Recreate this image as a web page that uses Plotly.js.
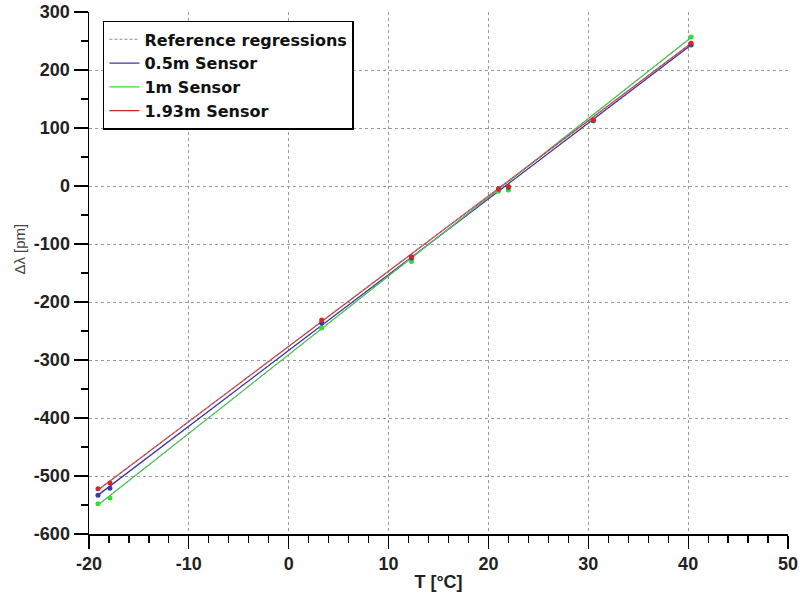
<!DOCTYPE html>
<html>
<head>
<meta charset="utf-8">
<script src="https://cdn.plot.ly/plotly-3.0.1.min.js"></script>
<style>html,body{margin:0;padding:0;background:#fff;}#chart{width:800px;height:594px;}</style>
</head>
<body>
<div id="chart"></div>
<script>
// Measured points (temperature in °C, wavelength shift in pm)
var tempPoints = [-19.1, -17.9, 3.3, 12.3, 21.0, 22.0, 30.5, 40.3];
var sensor05 = [-533, -521, -236, -124, -5, -2, 113, 243];
var sensor1 = [-548, -538, -245, -130, -9, -7, 112, 257];
var sensor193 = [-522, -512, -231, -122, -5, -1, 114, 246];

// Regression line end points
var fitT = [-19.1, 40.3];
var fit05 = [-533, 243];
var fit1 = [-550, 256];
var fit193 = [-524, 246];

// Tick labels (hyphen minus as in the original)
var xTickVals = [-20, -10, 0, 10, 20, 30, 40, 50];
var xTickText = ['-20', '-10', '0', '10', '20', '30', '40', '50'];
var yTickVals = [-600, -500, -400, -300, -200, -100, 0, 100, 200, 300];
var yTickText = ['-600', '-500', '-400', '-300', '-200', '-100', '0', '100', '200', '300'];

var seriesNames = ['Reference regressions', '0.5m Sensor', '1m Sensor', '1.93m Sensor'];
var colBlue = '#3a3aa0', colGreen = '#33dd33', colRed = '#dd2222', colRef = '#8888aa';

var traces = [];
traces.push({x: fitT, y: fit05, mode: 'lines', name: seriesNames[0], line: {color: colRef, width: 1, dash: '3px,2px'}, legendrank: 1});
traces.push({x: fitT, y: fit05, mode: 'lines', name: seriesNames[1], line: {color: colBlue, width: 1.3}, legendrank: 2});
traces.push({x: fitT, y: fit1, mode: 'lines', name: seriesNames[2], line: {color: colGreen, width: 1.3}, legendrank: 3});
traces.push({x: fitT, y: fit193, mode: 'lines', name: seriesNames[3], line: {color: colRed, width: 1.3}, legendrank: 4});
traces.push({x: fitT, y: fit1, mode: 'lines', showlegend: false, line: {color: colRef, width: 1, dash: '3px,2px'}});
traces.push({x: fitT, y: fit193, mode: 'lines', showlegend: false, line: {color: colRef, width: 1, dash: '3px,2px'}});
traces.push({x: tempPoints, y: sensor1, mode: 'markers', showlegend: false, marker: {color: colGreen, size: 5}});
traces.push({x: tempPoints, y: sensor05, mode: 'markers', showlegend: false, marker: {color: colBlue, size: 5}});
traces.push({x: tempPoints, y: sensor193, mode: 'markers', showlegend: false, marker: {color: colRed, size: 5}});

var sans = 'Liberation Sans, Arial, sans-serif';
var tickFont = {family: sans, size: 18, color: '#222', weight: 'bold'};
var layout = {
  width: 800, height: 594,
  margin: {l: 89, r: 12, t: 12, b: 60},
  paper_bgcolor: '#fff', plot_bgcolor: '#fff',
  showlegend: true,
  legend: {x: 0.02, y: 0.983, xanchor: 'left', yanchor: 'top', bgcolor: '#fff', bordercolor: '#000', borderwidth: 1.5,
    font: {family: 'DejaVu Sans, sans-serif', size: 16, color: '#111', weight: 'bold'}, tracegroupgap: 0, itemwidth: 30},
  xaxis: {
    range: [-20, 50], tickmode: 'array', tickvals: xTickVals, ticktext: xTickText,
    showline: true, linecolor: '#000', linewidth: 1.5,
    ticks: 'outside', ticklen: 13, tickcolor: '#000', tickwidth: 1.2,
    showgrid: true, gridcolor: '#999', griddash: '3px,3px', gridwidth: 1, zeroline: false,
    tickfont: tickFont,
    minor: {dtick: 2, tick0: 0, ticks: 'outside', ticklen: 7, tickcolor: '#000', showgrid: false},
    title: {text: 'T [°C]', font: {family: sans, size: 18, weight: 'bold', color: '#222'}, standoff: 2}
  },
  yaxis: {
    range: [-600, 300], tickmode: 'array', tickvals: yTickVals, ticktext: yTickText,
    showline: true, linecolor: '#000', linewidth: 1.5,
    ticks: 'outside', ticklen: 14, tickcolor: '#000', tickwidth: 1.2,
    showgrid: true, gridcolor: '#999', griddash: '3px,3px', gridwidth: 1, zeroline: false,
    tickfont: tickFont,
    minor: {dtick: 50, tick0: 0, ticks: 'outside', ticklen: 7, tickcolor: '#000', showgrid: false},
    title: {text: ''}
  },
  annotations: [{
    text: 'Δλ [pm]', xref: 'paper', yref: 'paper', x: -0.1, y: 0.545, xanchor: 'center', yanchor: 'middle',
    textangle: -90, showarrow: false, font: {family: 'Liberation Sans, Arial, sans-serif', size: 15, color: '#444'}
  }]
};
Plotly.newPlot('chart', traces, layout, {displayModeBar: false, staticPlot: true});
</script>
</body>
</html>
